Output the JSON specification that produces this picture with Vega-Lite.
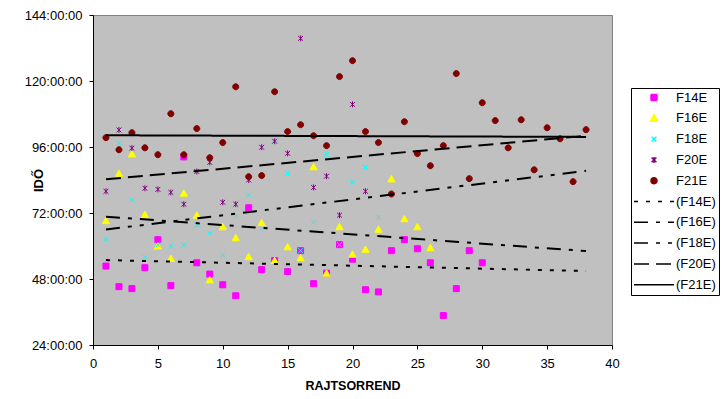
{
  "$schema": "https://vega.github.io/schema/vega-lite/v6.json",
  "width": 519,
  "height": 330,
  "autosize": "none",
  "padding": {"left": 93, "top": 15, "right": 112, "bottom": 54},
  "background": "white",
  "config": {
    "font": "Liberation Sans",
    "view": {"fill": "#C0C0C0", "stroke": "#808080", "strokeWidth": 1},
    "legend": {
      "orient": "none",
      "legendX": 538,
      "legendY": 73,
      "padding": 3,
      "fillColor": "white",
      "strokeColor": "black",
      "labelFont": "Liberation Sans",
      "labelFontSize": 13,
      "labelColor": "black",
      "labelOffset": 15.5,
      "symbolOffset": 13.5,
      "rowPadding": 6.8,
      "symbolSize": 100,
      "symbolStrokeWidth": 1.5,
      "symbolOpacity": 1
    }
  },
  "data": {
    "values": [
      {"series": "F14E", "run": 1, "hours": 52.7}, {"series": "F14E", "run": 2, "hours": 45.2}, {"series": "F14E", "run": 3, "hours": 44.5}, {"series": "F14E", "run": 4, "hours": 52.1}, {"series": "F14E", "run": 5, "hours": 62.3}, {"series": "F14E", "run": 6, "hours": 45.6}, {"series": "F14E", "run": 7, "hours": 92.4}, {"series": "F14E", "run": 8, "hours": 53.9}, {"series": "F14E", "run": 9, "hours": 49.8}, {"series": "F14E", "run": 10, "hours": 45.9}, {"series": "F14E", "run": 11, "hours": 41.9}, {"series": "F14E", "run": 12, "hours": 73.9}, {"series": "F14E", "run": 13, "hours": 51.4}, {"series": "F14E", "run": 14, "hours": 54.7}, {"series": "F14E", "run": 15, "hours": 50.7}, {"series": "F14E", "run": 16, "hours": 58.3}, {"series": "F14E", "run": 17, "hours": 46.3}, {"series": "F14E", "run": 18, "hours": 50.1}, {"series": "F14E", "run": 19, "hours": 60.5}, {"series": "F14E", "run": 20, "hours": 55.2}, {"series": "F14E", "run": 21, "hours": 44.1}, {"series": "F14E", "run": 22, "hours": 43.3}, {"series": "F14E", "run": 23, "hours": 58.3}, {"series": "F14E", "run": 24, "hours": 62.3}, {"series": "F14E", "run": 25, "hours": 59.0}, {"series": "F14E", "run": 26, "hours": 53.9}, {"series": "F14E", "run": 27, "hours": 34.7}, {"series": "F14E", "run": 28, "hours": 44.5}, {"series": "F14E", "run": 29, "hours": 58.3}, {"series": "F14E", "run": 30, "hours": 53.9},
      {"series": "F16E", "run": 1, "hours": 69.2}, {"series": "F16E", "run": 2, "hours": 86.4}, {"series": "F16E", "run": 3, "hours": 93.5}, {"series": "F16E", "run": 4, "hours": 71.5}, {"series": "F16E", "run": 5, "hours": 60.0}, {"series": "F16E", "run": 6, "hours": 55.5}, {"series": "F16E", "run": 7, "hours": 79.2}, {"series": "F16E", "run": 8, "hours": 71.2}, {"series": "F16E", "run": 9, "hours": 47.7}, {"series": "F16E", "run": 10, "hours": 67.0}, {"series": "F16E", "run": 11, "hours": 63.0}, {"series": "F16E", "run": 12, "hours": 56.1}, {"series": "F16E", "run": 13, "hours": 68.5}, {"series": "F16E", "run": 14, "hours": 54.7}, {"series": "F16E", "run": 15, "hours": 59.7}, {"series": "F16E", "run": 16, "hours": 55.7}, {"series": "F16E", "run": 17, "hours": 88.8}, {"series": "F16E", "run": 18, "hours": 50.1}, {"series": "F16E", "run": 19, "hours": 67.0}, {"series": "F16E", "run": 20, "hours": 57.0}, {"series": "F16E", "run": 21, "hours": 58.8}, {"series": "F16E", "run": 22, "hours": 66.1}, {"series": "F16E", "run": 23, "hours": 84.4}, {"series": "F16E", "run": 24, "hours": 69.9}, {"series": "F16E", "run": 25, "hours": 67.0}, {"series": "F16E", "run": 26, "hours": 59.4},
      {"series": "F18E", "run": 1, "hours": 62.4}, {"series": "F18E", "run": 2, "hours": 97.3}, {"series": "F18E", "run": 3, "hours": 76.7}, {"series": "F18E", "run": 4, "hours": 55.9}, {"series": "F18E", "run": 5, "hours": 60.4}, {"series": "F18E", "run": 6, "hours": 60.0}, {"series": "F18E", "run": 7, "hours": 60.4}, {"series": "F18E", "run": 8, "hours": 67.6}, {"series": "F18E", "run": 9, "hours": 64.7}, {"series": "F18E", "run": 10, "hours": 56.6}, {"series": "F18E", "run": 11, "hours": 70.8}, {"series": "F18E", "run": 12, "hours": 78.5}, {"series": "F18E", "run": 13, "hours": 66.3}, {"series": "F18E", "run": 14, "hours": 98.1}, {"series": "F18E", "run": 15, "hours": 86.4}, {"series": "F18E", "run": 16, "hours": 58.3}, {"series": "F18E", "run": 17, "hours": 68.6}, {"series": "F18E", "run": 18, "hours": 93.3}, {"series": "F18E", "run": 19, "hours": 60.5}, {"series": "F18E", "run": 20, "hours": 83.2}, {"series": "F18E", "run": 21, "hours": 88.6}, {"series": "F18E", "run": 22, "hours": 70.4},
      {"series": "F20E", "run": 1, "hours": 79.9}, {"series": "F20E", "run": 2, "hours": 102.2}, {"series": "F20E", "run": 3, "hours": 95.6}, {"series": "F20E", "run": 4, "hours": 81.0}, {"series": "F20E", "run": 5, "hours": 80.6}, {"series": "F20E", "run": 6, "hours": 79.5}, {"series": "F20E", "run": 7, "hours": 75.2}, {"series": "F20E", "run": 8, "hours": 87.1}, {"series": "F20E", "run": 9, "hours": 90.4}, {"series": "F20E", "run": 10, "hours": 75.9}, {"series": "F20E", "run": 11, "hours": 75.2}, {"series": "F20E", "run": 12, "hours": 84.0}, {"series": "F20E", "run": 13, "hours": 95.9}, {"series": "F20E", "run": 14, "hours": 98.1}, {"series": "F20E", "run": 15, "hours": 93.7}, {"series": "F20E", "run": 16, "hours": 135.5}, {"series": "F20E", "run": 17, "hours": 81.3}, {"series": "F20E", "run": 18, "hours": 85.4}, {"series": "F20E", "run": 19, "hours": 71.2}, {"series": "F20E", "run": 20, "hours": 111.5}, {"series": "F20E", "run": 21, "hours": 79.9},
      {"series": "F21E", "run": 1, "hours": 99.4}, {"series": "F21E", "run": 2, "hours": 95.0}, {"series": "F21E", "run": 3, "hours": 101.2}, {"series": "F21E", "run": 4, "hours": 95.7}, {"series": "F21E", "run": 5, "hours": 93.2}, {"series": "F21E", "run": 6, "hours": 108.1}, {"series": "F21E", "run": 7, "hours": 93.2}, {"series": "F21E", "run": 8, "hours": 102.7}, {"series": "F21E", "run": 9, "hours": 92.1}, {"series": "F21E", "run": 10, "hours": 97.6}, {"series": "F21E", "run": 11, "hours": 117.9}, {"series": "F21E", "run": 12, "hours": 85.2}, {"series": "F21E", "run": 13, "hours": 85.6}, {"series": "F21E", "run": 14, "hours": 116.1}, {"series": "F21E", "run": 15, "hours": 101.6}, {"series": "F21E", "run": 16, "hours": 104.1}, {"series": "F21E", "run": 17, "hours": 100.1}, {"series": "F21E", "run": 18, "hours": 96.5}, {"series": "F21E", "run": 19, "hours": 121.6}, {"series": "F21E", "run": 20, "hours": 127.4}, {"series": "F21E", "run": 21, "hours": 101.6}, {"series": "F21E", "run": 22, "hours": 97.6}, {"series": "F21E", "run": 23, "hours": 78.9}, {"series": "F21E", "run": 24, "hours": 105.2}, {"series": "F21E", "run": 25, "hours": 93.6}, {"series": "F21E", "run": 26, "hours": 89.2}, {"series": "F21E", "run": 27, "hours": 96.5}, {"series": "F21E", "run": 28, "hours": 122.7}, {"series": "F21E", "run": 29, "hours": 84.5}, {"series": "F21E", "run": 30, "hours": 112.1}, {"series": "F21E", "run": 31, "hours": 105.6}, {"series": "F21E", "run": 32, "hours": 95.7}, {"series": "F21E", "run": 33, "hours": 105.9}, {"series": "F21E", "run": 34, "hours": 87.7}, {"series": "F21E", "run": 35, "hours": 103.0}, {"series": "F21E", "run": 36, "hours": 99.0}, {"series": "F21E", "run": 37, "hours": 83.4}, {"series": "F21E", "run": 38, "hours": 102.3}
    ]
  },
  "encoding": {
    "x": {
      "field": "run",
      "type": "quantitative",
      "scale": {"domain": [0, 40], "nice": false, "zero": false},
      "axis": {
        "values": [0, 5, 10, 15, 20, 25, 30, 35, 40],
        "grid": false,
        "tickSize": 4,
        "tickColor": "black",
        "domainColor": "black",
        "labelFontSize": 13,
        "labelColor": "black",
        "labelPadding": 8,
        "labelFlush": false,
        "labelOverlap": false,
        "title": "RAJTSORREND",
        "titleFontSize": 12.5,
        "titleFontWeight": "bold",
        "titleColor": "black",
        "titleY": 40,
        "titleBaseline": "middle"
      }
    },
    "y": {
      "field": "hours",
      "type": "quantitative",
      "scale": {"domain": [24, 144], "nice": false, "zero": false},
      "axis": {
        "values": [24, 48, 72, 96, 120, 144],
        "labelExpr": "datum.value + ':00:00'",
        "grid": false,
        "tickSize": 4,
        "tickColor": "black",
        "domainColor": "black",
        "labelFontSize": 13,
        "labelColor": "black",
        "labelPadding": 7,
        "labelFlush": false,
        "labelOverlap": false,
        "title": "IDŐ",
        "titleFontSize": 13,
        "titleFontWeight": "bold",
        "titleColor": "black",
        "titleX": -55,
        "titleBaseline": "middle"
      }
    }
  },
  "layer": [
    {
      "mark": {"type": "point", "filled": true, "size": 100, "strokeWidth": 1, "opacity": 1},
      "encoding": {
        "fill": {
          "field": "series",
          "type": "nominal",
          "scale": {
            "domain": ["F14E", "F16E", "F18E", "F20E", "F21E", "(F14E)", "(F16E)", "(F18E)", "(F20E)", "(F21E)"],
            "range": ["#FF00FF", "#FFFF00", "#00FFFF", "#800080", "#800000", "transparent", "transparent", "transparent", "transparent", "transparent"]
          },
          "legend": {"title": null}
        },
        "stroke": {
          "field": "series",
          "type": "nominal",
          "scale": {
            "domain": ["F14E", "F16E", "F18E", "F20E", "F21E", "(F14E)", "(F16E)", "(F18E)", "(F20E)", "(F21E)"],
            "range": ["#FF00FF", "#FFFF00", "#00FFFF", "#800080", "#800000", "black", "black", "black", "black", "black"]
          },
          "legend": {"title": null}
        },
        "shape": {
          "field": "series",
          "type": "nominal",
          "scale": {
            "domain": ["F14E", "F16E", "F18E", "F20E", "F21E", "(F14E)", "(F16E)", "(F18E)", "(F20E)", "(F21E)"],
            "range": [
              "M-0.6,-0.6L0.6,-0.6L0.6,0.6L-0.6,0.6Z",
              "M0,-0.68L0.72,0.6L-0.72,0.6Z",
              "M-0.48,-0.48L0.48,0.48M0.48,-0.48L-0.48,0.48",
              "M-0.48,-0.48L0.48,0.48M0.48,-0.48L-0.48,0.48M0,-0.6L0,0.6",
              "M-0.6,0A0.6,0.6,0,1,1,0.6,0A0.6,0.6,0,1,1,-0.6,0Z",
              "M-4,0L4,0", "M-4,0L4,0", "M-4,0L4,0", "M-4,0L4,0", "M-4,0L4,0"
            ]
          },
          "legend": {"title": null}
        }
      }
    },
    {
      "transform": [
        {"regression": "hours", "on": "run", "groupby": ["series"], "extent": [1, 38]},
        {"calculate": "'(' + datum.series + ')'", "as": "trend"}
      ],
      "mark": {"type": "line", "strokeWidth": 2},
      "encoding": {
        "stroke": {"field": "trend", "type": "nominal", "legend": {"title": null}},
        "strokeDash": {
          "field": "trend",
          "type": "nominal",
          "scale": {
            "domain": ["F14E", "F16E", "F18E", "F20E", "F21E", "(F14E)", "(F16E)", "(F18E)", "(F20E)", "(F21E)"],
            "range": [[1, 0], [1, 0], [1, 0], [1, 0], [1, 0], [4, 8], [14, 8, 4, 8], [14, 8, 4, 8, 4, 8], [15, 7], [1, 0]]
          },
          "legend": {"title": null}
        }
      }
    }
  ]
}
